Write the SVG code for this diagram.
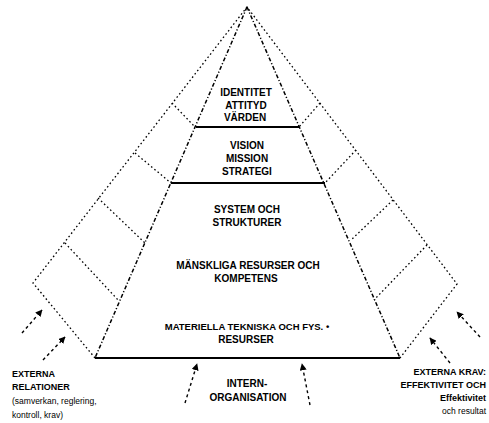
<svg xmlns="http://www.w3.org/2000/svg" width="489" height="423" viewBox="0 0 489 423">
<defs>
<marker id="ah" viewBox="0 0 10 10" refX="9" refY="5" markerWidth="7" markerHeight="7" markerUnits="userSpaceOnUse" orient="auto">
<path d="M0,0 L10,5 L0,10 Z" fill="#000"/>
</marker>
<style>
.outer{fill:none;stroke:#000;stroke-width:1.3;stroke-dasharray:1.6 2.6}
.inner{fill:none;stroke:#000;stroke-width:1.5;stroke-dasharray:4 2 1.2 2}
.solid{fill:none;stroke:#000;stroke-width:1.8}
.arr{fill:none;stroke:#000;stroke-width:1.4;stroke-dasharray:3 3;marker-end:url(#ah)}
.t{font-family:"Liberation Sans",Arial,sans-serif;font-weight:bold;font-size:10px;fill:#000;text-anchor:middle}
.s{font-family:"Liberation Sans",Arial,sans-serif;font-weight:bold;font-size:9px;fill:#000}
.r{font-family:"Liberation Sans",Arial,sans-serif;font-size:8.5px;fill:#000}
.e{text-anchor:end}
</style>
</defs>
<rect width="489" height="423" fill="#fff"/>
<g id="connectors">
<polyline class="outer" points="95,358 33,283 247,7 457,284 400,358"/>
<line class="outer" x1="172" y1="103" x2="195" y2="127"/>
<line class="outer" x1="135" y1="153" x2="171" y2="183"/>
<line class="outer" x1="98" y1="198" x2="145" y2="243"/>
<line class="outer" x1="65" y1="243" x2="119" y2="301"/>
<line class="outer" x1="320" y1="103" x2="299" y2="127"/>
<line class="outer" x1="356" y1="150" x2="325" y2="183"/>
<line class="outer" x1="393" y1="200" x2="351" y2="240"/>
<line class="outer" x1="427" y1="245" x2="374" y2="300"/>
<line class="inner" x1="247" y1="7" x2="95" y2="358"/>
<line class="inner" x1="247" y1="7" x2="400" y2="358"/>
<line class="arr" x1="22" y1="333" x2="42" y2="310"/>
<line class="arr" x1="43" y1="360" x2="65" y2="337"/>
<line class="arr" x1="185" y1="403" x2="197" y2="364"/>
<line class="arr" x1="310" y1="405" x2="302" y2="364"/>
<line class="arr" x1="480" y1="337" x2="457" y2="312"/>
<line class="arr" x1="450" y1="363" x2="430" y2="338"/>
</g>
<g id="layer-identitet">
<text class="t" x="246" y="96">IDENTITET</text>
<text class="t" x="246" y="109">ATTITYD</text>
<text class="t" x="245" y="121">VÄRDEN</text>
<line class="solid" x1="196" y1="127" x2="299" y2="127"/>
</g>
<g id="layer-vision">
<text class="t" x="247" y="149">VISION</text>
<text class="t" x="247" y="162">MISSION</text>
<text class="t" x="247" y="175">STRATEGI</text>
<line class="solid" x1="171" y1="183" x2="325" y2="183"/>
</g>
<g id="layer-system">
<text class="t" x="247" y="213">SYSTEM OCH</text>
<text class="t" x="247" y="226">STRUKTURER</text>
</g>
<g id="layer-manskliga">
<text class="t" x="248" y="269">MÄNSKLIGA RESURSER OCH</text>
<text class="t" x="246" y="282">KOMPETENS</text>
</g>
<g id="layer-materiella">
<text class="t" x="247" y="330" style="font-size:9.5px">MATERIELLA TEKNISKA OCH FYS.  •</text>
<text class="t" x="246" y="343">RESURSER</text>
<line class="solid" x1="95" y1="358" x2="400" y2="358"/>
</g>
<g id="intern">
<text class="t" x="247" y="387">INTERN-</text>
<text class="t" x="248" y="401">ORGANISATION</text>
</g>
<g id="externa-left">
<text class="s" x="12" y="377">EXTERNA</text>
<text class="s" x="12" y="390">RELATIONER</text>
<text class="r" x="12" y="404">(samverkan, reglering,</text>
<text class="r" x="12" y="418">kontroll, krav)</text>
</g>
<g id="externa-right">
<text class="s e" x="486" y="375">EXTERNA KRAV:</text>
<text class="s e" x="486" y="388">EFFEKTIVITET OCH</text>
<text class="s e" x="486" y="401">Effektivitet</text>
<text class="r e" x="486" y="414">och resultat</text>
</g>
</svg>
